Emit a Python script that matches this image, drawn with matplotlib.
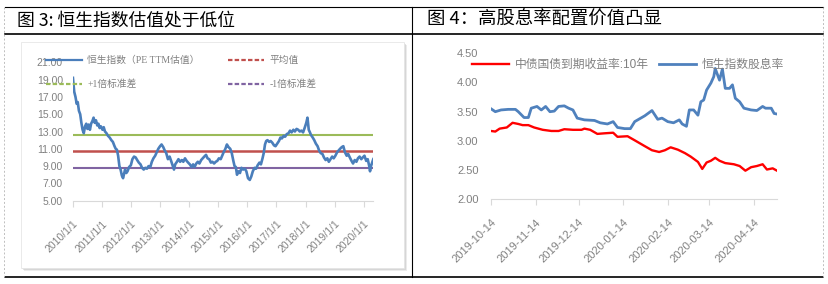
import numpy as np
import pandas as pd
import matplotlib
matplotlib.use("Agg")
import matplotlib.pyplot as plt
from matplotlib.lines import Line2D
from matplotlib.patches import Rectangle

plt.rcParams['font.family'] = ['Liberation Sans', 'Noto Sans CJK SC', 'DejaVu Sans']

# ---- Figure 3: HSI PE (TTM) valuation ----
pe_dates = [
    "2010-01-04", "2010-01-20", "2010-02-05", "2010-02-20", "2010-03-05", "2010-03-20",
    "2010-04-05", "2010-04-20", "2010-05-05", "2010-05-20", "2010-06-05", "2010-06-20",
    "2010-07-05", "2010-07-20", "2010-08-05", "2010-08-20", "2010-09-05", "2010-09-20",
    "2010-10-05", "2010-10-20", "2010-11-05", "2010-11-20", "2010-12-05", "2010-12-20",
    "2011-01-10", "2011-01-25", "2011-02-10", "2011-03-01", "2011-03-20", "2011-04-10",
    "2011-05-01", "2011-05-20", "2011-06-10", "2011-06-25", "2011-07-10", "2011-07-25",
    "2011-08-10", "2011-08-25", "2011-09-10", "2011-09-25", "2011-10-05", "2011-10-20",
    "2011-11-05", "2011-11-20", "2011-12-10", "2012-01-01", "2012-01-20", "2012-02-10",
    "2012-03-01", "2012-03-20", "2012-04-10", "2012-05-01", "2012-05-20", "2012-06-10",
    "2012-07-01", "2012-07-20", "2012-08-10", "2012-09-01", "2012-09-20", "2012-10-10",
    "2012-11-01", "2012-11-20", "2012-12-10", "2013-01-01", "2013-01-20", "2013-02-10",
    "2013-03-01", "2013-03-20", "2013-04-10", "2013-05-01", "2013-05-20", "2013-06-10",
    "2013-06-25", "2013-07-10", "2013-08-01", "2013-08-20", "2013-09-10", "2013-10-01",
    "2013-10-20", "2013-11-10", "2013-12-01", "2013-12-20", "2014-01-10", "2014-02-01",
    "2014-02-20", "2014-03-10", "2014-04-01", "2014-04-20", "2014-05-10", "2014-06-01",
    "2014-06-20", "2014-07-10", "2014-08-01", "2014-08-20", "2014-09-10", "2014-10-01",
    "2014-10-20", "2014-11-10", "2014-12-01", "2014-12-20", "2015-01-10", "2015-02-01",
    "2015-02-20", "2015-03-10", "2015-04-01", "2015-04-20", "2015-05-10", "2015-06-01",
    "2015-06-20", "2015-07-10", "2015-07-25", "2015-08-10", "2015-08-25", "2015-09-10",
    "2015-10-01", "2015-10-20", "2015-11-10", "2015-12-01", "2015-12-20", "2016-01-10",
    "2016-02-01", "2016-02-20", "2016-03-10", "2016-04-01", "2016-04-20", "2016-05-10",
    "2016-06-01", "2016-06-20", "2016-07-10", "2016-07-25", "2016-08-10", "2016-08-25",
    "2016-09-10", "2016-10-01", "2016-10-20", "2016-11-10", "2016-12-01", "2016-12-20",
    "2017-01-10", "2017-02-01", "2017-02-20", "2017-03-10", "2017-04-01", "2017-04-20",
    "2017-05-10", "2017-06-01", "2017-06-20", "2017-07-10", "2017-08-01", "2017-08-20",
    "2017-09-10", "2017-10-01", "2017-10-20", "2017-11-10", "2017-12-01", "2017-12-20",
    "2018-01-10", "2018-01-25", "2018-02-10", "2018-02-25", "2018-03-10", "2018-04-01",
    "2018-04-20", "2018-05-10", "2018-06-01", "2018-06-20", "2018-07-10", "2018-08-01",
    "2018-08-20", "2018-09-10", "2018-10-01", "2018-10-20", "2018-11-10", "2018-12-01",
    "2018-12-20", "2019-01-10", "2019-02-01", "2019-02-20", "2019-03-10", "2019-04-01",
    "2019-04-20", "2019-05-10", "2019-06-01", "2019-06-20", "2019-07-10", "2019-08-01",
    "2019-08-20", "2019-09-10", "2019-10-01", "2019-10-20", "2019-11-10", "2019-12-01",
    "2019-12-20", "2020-01-10", "2020-02-01", "2020-02-20", "2020-03-10", "2020-03-20",
    "2020-04-01", "2020-04-20", "2020-04-30",
]
pe_values = [
    19.2, 17.6, 17.0, 16.2, 16.4, 15.4,
    15.0, 14.0, 13.2, 12.8, 13.6, 13.9,
    13.3, 13.8, 13.2, 13.9, 14.2, 14.6,
    14.0, 14.3, 13.7, 13.9, 13.4, 13.6,
    13.2, 13.5, 13.0, 12.8, 12.5, 12.3,
    12.0, 11.8, 11.3, 11.0, 10.9, 10.2,
    9.0, 8.6, 7.9, 7.6, 8.0, 8.6,
    8.2, 8.4, 8.9, 9.1, 9.8, 10.1,
    10.0, 9.7, 9.4, 9.2, 8.8, 8.6,
    8.8, 8.7, 9.0, 8.9, 9.5, 9.9,
    10.2, 10.6, 11.0, 11.3, 11.5, 11.2,
    10.8, 10.5, 9.8, 10.1, 9.6, 9.0,
    8.6, 9.2, 9.5, 9.8, 9.5, 9.7,
    9.5, 9.9, 9.6, 9.4, 9.2, 8.9,
    9.2, 8.9, 9.3, 9.5, 9.3, 9.7,
    9.9, 10.1, 10.3, 9.9, 9.8, 9.4,
    9.5, 9.3, 9.5, 9.6, 9.9, 9.8,
    10.2, 10.6, 11.0, 11.5, 11.2, 11.0,
    10.5, 9.6, 9.0, 8.9, 8.0, 8.4,
    8.2, 8.8, 8.6, 8.7, 8.4, 7.6,
    7.4, 7.8, 8.4, 8.8, 8.7, 9.1,
    9.4, 9.2, 9.9, 10.5, 11.5, 11.9,
    12.0, 11.8, 11.9, 11.7, 11.4, 11.3,
    11.6, 11.9, 12.3, 12.2, 12.5, 12.4,
    12.7, 12.8, 13.1, 12.9, 13.2, 13.0,
    13.3, 13.2, 13.0, 13.1, 12.9, 13.4,
    14.0, 14.6, 13.2, 12.9, 12.6, 12.3,
    12.0, 11.6, 11.3, 10.8, 10.5, 10.4,
    10.0, 9.7, 9.9, 9.5, 9.8, 10.1,
    9.9, 10.2, 10.6, 10.8, 11.0, 11.2,
    11.3, 10.6, 10.2, 10.4, 10.0, 9.6,
    9.3, 9.7, 9.5, 9.9, 10.1, 9.8,
    10.0, 10.2, 9.6, 9.8, 9.0, 8.4,
    9.0, 9.5, 9.8,
]
pe_mean = 10.7
pe_plus1 = 12.6
pe_minus1 = 8.8
pe_xticks = ["2010/1/1", "2011/1/1", "2012/1/1", "2013/1/1", "2014/1/1", "2015/1/1",
             "2016/1/1", "2017/1/1", "2018/1/1", "2019/1/1", "2020/1/1"]
pe_yticks = [5, 7, 9, 11, 13, 15, 17, 19, 21]
pe_labels = ["恒生指数（PE TTM估值）", "平均值", "+1倍标准差", "-1倍标准差"]

# ---- Figure 4: dividend yield vs 10y CGB yield ----
dy_dates = [
    "2019-10-14", "2019-10-17", "2019-10-21", "2019-10-26", "2019-10-31", "2019-11-02",
    "2019-11-06", "2019-11-09", "2019-11-11", "2019-11-15", "2019-11-18", "2019-11-21",
    "2019-11-24", "2019-11-27", "2019-11-30", "2019-12-04", "2019-12-07", "2019-12-10",
    "2019-12-13", "2019-12-18", "2019-12-25", "2019-12-29", "2020-01-03", "2020-01-07",
    "2020-01-10", "2020-01-15", "2020-01-19", "2020-01-22", "2020-01-29", "2020-02-03",
    "2020-02-07", "2020-02-10", "2020-02-14", "2020-02-18", "2020-02-22", "2020-02-24",
    "2020-02-27", "2020-02-29", "2020-03-03", "2020-03-06", "2020-03-08", "2020-03-10",
    "2020-03-12", "2020-03-15", "2020-03-17", "2020-03-18", "2020-03-21", "2020-03-23",
    "2020-03-25", "2020-03-28", "2020-03-30", "2020-04-01", "2020-04-04", "2020-04-07",
    "2020-04-12", "2020-04-16", "2020-04-20", "2020-04-22", "2020-04-26", "2020-04-28",
    "2020-04-30",
]
dy_values = [
    3.55, 3.50, 3.53, 3.54, 3.54, 3.50,
    3.40, 3.40, 3.56, 3.59, 3.53, 3.59,
    3.50, 3.51, 3.59, 3.60, 3.56, 3.53,
    3.39, 3.36, 3.35, 3.31, 3.29, 3.33,
    3.23, 3.21, 3.21, 3.33, 3.43, 3.52,
    3.37, 3.39, 3.33, 3.31, 3.36, 3.29,
    3.25, 3.53, 3.53, 3.44, 3.67, 3.70,
    3.87, 3.99, 4.10, 4.24, 4.04, 4.23,
    3.90, 3.90, 3.96, 3.73, 3.67, 3.56,
    3.53, 3.52, 3.59, 3.56, 3.56, 3.47,
    3.46,
]
cgb_dates = [
    "2019-10-14", "2019-10-17", "2019-10-20", "2019-10-25", "2019-10-29", "2019-11-02",
    "2019-11-05", "2019-11-09", "2019-11-13", "2019-11-19", "2019-11-25", "2019-11-30",
    "2019-12-04", "2019-12-10", "2019-12-16", "2019-12-18", "2019-12-22", "2019-12-27",
    "2020-01-01", "2020-01-07", "2020-01-10", "2020-01-17", "2020-01-22", "2020-01-29",
    "2020-02-03", "2020-02-08", "2020-02-12", "2020-02-16", "2020-02-21", "2020-02-26",
    "2020-03-01", "2020-03-06", "2020-03-09", "2020-03-12", "2020-03-15", "2020-03-18",
    "2020-03-21", "2020-03-25", "2020-03-31", "2020-04-04", "2020-04-08", "2020-04-12",
    "2020-04-16", "2020-04-20", "2020-04-23", "2020-04-27", "2020-04-30",
]
cgb_values = [
    3.17, 3.16, 3.21, 3.23, 3.31, 3.29,
    3.27, 3.27, 3.23, 3.19, 3.17, 3.17,
    3.20, 3.19, 3.19, 3.21, 3.19, 3.12,
    3.13, 3.14, 3.07, 3.08, 3.01, 2.91,
    2.84, 2.81, 2.84, 2.89, 2.85, 2.79,
    2.73, 2.64, 2.52, 2.63, 2.66, 2.71,
    2.66, 2.62, 2.60, 2.57, 2.49, 2.55,
    2.57, 2.60, 2.51, 2.53, 2.49,
]
dy_xticks = ["2019-10-14", "2019-11-14", "2019-12-14", "2020-01-14",
             "2020-02-14", "2020-03-14", "2020-04-14"]
dy_yticks = [2.0, 2.5, 3.0, 3.5, 4.0, 4.5]
dy_labels = ["中债国债到期收益率:10年", "恒生指数股息率"]

W, H = 829, 284
fig = plt.figure(figsize=(W / 100, H / 100), dpi=100)
tick_gray = "#808080"
axis_gray = "#d9d9d9"


def fx(x):
    return x / W


def fy(y):
    return 1 - y / H


def hline(x0, x1, y, **kw):
    fig.add_artist(Line2D([fx(x0), fx(x1)], [fy(y), fy(y)], transform=fig.transFigure, **kw))


def vline(x, y0, y1, **kw):
    fig.add_artist(Line2D([fx(x), fx(x)], [fy(y0), fy(y1)], transform=fig.transFigure, **kw))


# frame lines
hline(5, 823, 7, color="black", lw=0.8)
hline(5, 823, 33.5, color="black", lw=1.2)
hline(5, 823, 277, color="black", lw=1.2)
vline(412, 7, 277, color="black", lw=0.8)
vline(4, 7, 277, color="#bfbfbf", lw=0.7, ls=(0, (2, 2)))
vline(823, 7, 277, color="#bfbfbf", lw=0.7, ls=(0, (2, 2)))

# titles
fig.text(fx(17), fy(20), "图 3: 恒生指数估值处于低位", fontsize=12.8,
         family=["Noto Sans CJK SC"], va="center", ha="left")
fig.text(fx(427), fy(20), "图 4：高股息率配置价值凸显", fontsize=13.2,
         family=["Noto Sans CJK SC"], va="center", ha="left")

# inner chart box with shadow (left)
for off, a in [(3, 0.25), (2, 0.35), (1, 0.5)]:
    fig.add_artist(Rectangle((fx(20.7 + off), fy(268 + off)), fx(404 - 20.7), (268 - 41.7) / H,
                             transform=fig.transFigure, facecolor="#b0b0b0", alpha=a,
                             edgecolor="none", zorder=-3))
fig.add_artist(Rectangle((fx(20.7), fy(268)), fx(404 - 20.7), (268 - 41.7) / H,
                         transform=fig.transFigure, facecolor="white",
                         edgecolor="#e6e6e6", lw=0.6, zorder=-2))

# ---- left chart ----
ax1 = fig.add_axes([fx(72.7), fy(200.7), fx(373.3 - 72.7), (200.7 - 62.3) / H])
ax1.set_facecolor("none")
ax1.plot(pd.to_datetime(pe_dates), pe_values, color="#4a7ebb", lw=1.9, zorder=3)
ax1.axhline(pe_plus1, color="#9bbb59", lw=1.5, zorder=2)
ax1.axhline(pe_mean, color="#c0504d", lw=1.8, zorder=2)
ax1.axhline(pe_minus1, color="#8064a2", lw=1.5, zorder=2)
ax1.set_xlim(pd.Timestamp("2010-01-01"), pd.Timestamp("2020-04-30"))
ax1.set_ylim(5, 21)
ax1.set_yticks(pe_yticks)
ax1.set_yticklabels([f"{v:.2f}" for v in pe_yticks])
ax1.set_xticks(pd.to_datetime(pe_xticks, format="%Y/%m/%d"))
ax1.set_xticklabels(pe_xticks, rotation=45, ha="right", rotation_mode="anchor")
for s in ["top", "right", "left"]:
    ax1.spines[s].set_visible(False)
ax1.spines["bottom"].set_color(axis_gray)
ax1.tick_params(axis="y", length=0, pad=7, labelsize=7.5, labelcolor=tick_gray)
ax1.tick_params(axis="x", length=4, color=axis_gray, pad=9, labelsize=7.5, labelcolor=tick_gray)

h1 = [Line2D([], [], color="#4a7ebb", lw=1.6),
      Line2D([], [], color="#c0504d", lw=1.6, ls=(0, (2, 1))),
      Line2D([], [], color="#9bbb59", lw=1.6, ls=(0, (2, 1))),
      Line2D([], [], color="#8064a2", lw=1.6, ls=(0, (2, 1)))]
order = [0, 2, 1, 3]
leg1 = fig.legend([h1[i] for i in order], [pe_labels[i] for i in order], ncol=2,
                  loc="upper left", bbox_to_anchor=(fx(46), fy(56)),
                  bbox_transform=fig.transFigure, frameon=False,
                  handlelength=3.7, handletextpad=0.55, columnspacing=2.9,
                  labelspacing=1.45, borderpad=0, borderaxespad=0,
                  prop={"family": ["Liberation Serif", "Noto Sans CJK SC"], "size": 7})
for t in leg1.get_texts():
    t.set_color(tick_gray)

# ---- right chart ----
ax2 = fig.add_axes([fx(491), fy(199.3), fx(777 - 491), (199.3 - 53.3) / H])
ax2.set_facecolor("none")
ax2.plot(pd.to_datetime(cgb_dates), cgb_values, color="#ff0000", lw=1.7, label=dy_labels[0])
ax2.plot(pd.to_datetime(dy_dates), dy_values, color="#4f81bd", lw=2.0, label=dy_labels[1])
ax2.set_xlim(pd.Timestamp("2019-10-14"), pd.Timestamp("2020-04-30"))
ax2.set_ylim(2.0, 4.5)
ax2.set_yticks(dy_yticks)
ax2.set_yticklabels([f"{v:.2f}" for v in dy_yticks])
ax2.set_xticks(pd.to_datetime(dy_xticks))
ax2.set_xticklabels(dy_xticks, rotation=45, ha="right", rotation_mode="anchor")
for s in ["top", "right", "left"]:
    ax2.spines[s].set_visible(False)
ax2.spines["bottom"].set_color(axis_gray)
ax2.tick_params(axis="y", length=0, pad=9, labelsize=8, labelcolor=tick_gray)
ax2.tick_params(axis="x", length=4, color=axis_gray, pad=9, labelsize=8, labelcolor=tick_gray)
leg2 = ax2.legend(loc="upper left", bbox_to_anchor=(fx(472), fy(59)),
                  bbox_transform=fig.transFigure, ncol=2, frameon=False,
                  handlelength=3.1, handletextpad=0.5, columnspacing=0.9,
                  borderpad=0, borderaxespad=0,
                  prop={"family": ["Liberation Sans", "Noto Sans CJK SC"], "size": 8.5})
for t in leg2.get_texts():
    t.set_color(tick_gray)

fig.savefig("out.png", dpi=100)
